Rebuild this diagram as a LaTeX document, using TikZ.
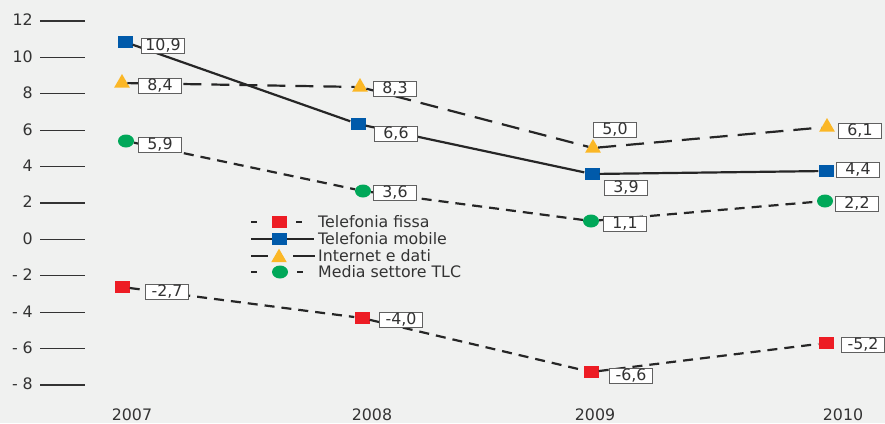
\documentclass[tikz,border=0pt]{standalone}
\usepackage{fontspec}
\setmainfont{DejaVu Sans}
\usetikzlibrary{shapes.geometric}

\definecolor{bggray}{RGB}{240,241,240}
\definecolor{txtgray}{RGB}{51,51,51}
\definecolor{fissared}{RGB}{237,28,36}
\definecolor{mobileblue}{RGB}{0,90,170}
\definecolor{netyellow}{RGB}{251,183,38}
\definecolor{mediagreen}{RGB}{0,168,89}

\tikzset{
  sq/.style={rectangle, minimum width=15pt, minimum height=12pt, inner sep=0pt},
  fissa/.style={sq, fill=fissared},
  mobile/.style={sq, fill=mobileblue},
  internet/.style={regular polygon, regular polygon sides=3, minimum size=18pt, inner sep=0pt, fill=netyellow},
  media/.style={ellipse, minimum width=16pt, minimum height=13pt, inner sep=0pt, fill=mediagreen},
  val/.style={draw=gray!75!black, fill=white, line width=0.8pt, minimum width=43pt, minimum height=15pt, inner sep=0pt},
  shortdash/.style={line width=2.2pt, black!85, dash pattern=on 10pt off 7pt},
  longdash/.style={line width=2.2pt, black!85, dash pattern=on 18pt off 10pt},
  fullline/.style={line width=2.2pt, black!85},
}

\begin{document}
\begin{tikzpicture}[x=1pt,y=-1pt,font=\fontsize{15.8}{19}\selectfont,text=txtgray]

  \fill[bggray] (0,0) rectangle (885,423);
  \useasboundingbox (0,0) rectangle (885,423);

  % y axis
  \foreach \v/\t in {12/12,10/10,8/8,6/6,4/4,2/2,0/0,-2/- 2,-4/- 4,-6/- 6,-8/- 8} {
    \draw[txtgray, line width=1.2pt] (40,{239.3-18.2*\v}) -- (85,{239.3-18.2*\v});
    \node[anchor=east, inner sep=0pt] at (33,{238.5-18.2*\v}) {\t};
  }

  % years
  \node[anchor=base, inner sep=0pt] (y07) at (132,420.5) {2007};
  \node[anchor=base, inner sep=0pt] (y08) at (372,420.5) {2008};
  \node[anchor=base, inner sep=0pt] (y09) at (595,420.5) {2009};
  \node[anchor=base, inner sep=0pt] (y10) at (843,420.5) {2010};

  % markers
  \node[mobile] (mob07) at (125,42) {};
  \node[mobile] (mob08) at (358,124) {};
  \node[mobile] (mob09) at (592,174) {};
  \node[mobile] (mob10) at (826,171) {};

  \node[internet] (net07) at (122,83) {};
  \node[internet] (net08) at (360,87) {};
  \node[internet] (net09) at (593,148) {};
  \node[internet] (net10) at (827,127) {};

  \node[media] (med07) at (126,141) {};
  \node[media] (med08) at (363,191) {};
  \node[media] (med09) at (591,221) {};
  \node[media] (med10) at (825,201) {};

  \node[fissa] (fis07) at (122,287) {};
  \node[fissa] (fis08) at (362,318) {};
  \node[fissa] (fis09) at (591,372) {};
  \node[fissa] (fis10) at (826,343) {};

  % series
  \draw[fullline] (mob07) -- (mob08) -- (mob09) -- (mob10);
  \draw[longdash] (net07) -- (net08) -- (net09) -- (net10);
  \draw[shortdash] (med07) -- (med08) -- (med09) -- (med10);
  \draw[shortdash] (fis07) -- (fis08) -- (fis09) -- (fis10);

  % values
  \node[val] (vmob07) at (163,46) {10,9};
  \node[val] (vnet07) at (160,86) {8,4};
  \node[val] (vmed07) at (160,145) {5,9};
  \node[val] (vfis07) at (167,292) {-2,7};

  \node[val] (vnet08) at (395,89) {8,3};
  \node[val] (vmob08) at (396,134) {6,6};
  \node[val] (vmed08) at (395,193) {3,6};
  \node[val] (vfis08) at (401,320) {-4,0};

  \node[val] (vnet09) at (615,130) {5,0};
  \node[val] (vmob09) at (626,188) {3,9};
  \node[val] (vmed09) at (625,224) {1,1};
  \node[val] (vfis09) at (631,376) {-6,6};

  \node[val] (vnet10) at (860,131) {6,1};
  \node[val] (vmob10) at (858,170) {4,4};
  \node[val] (vmed10) at (857,204) {2,2};
  \node[val] (vfis10) at (863,345) {-5,2};

  % legend
  \draw[line width=2pt, black!85, dash pattern=on 6pt off 39pt] (251,222) -- (303,222);
  \draw[line width=2pt, black!85] (251,239) -- (314,239);
  \draw[line width=2pt, black!85, dash pattern=on 17pt off 25pt on 22pt off 5pt] (251,256) -- (315,256);
  \draw[line width=2pt, black!85, dash pattern=on 6pt off 40pt] (251,272) -- (303,272);

  \node[fissa] (lfis) at (279,222) {};
  \node[mobile] (lmob) at (279,239) {};
  \node[internet] (lnet) at (279,257.7) {};
  \node[media] (lmed) at (280,272) {};

  \node[anchor=base west, inner sep=0pt] (tfis) at (318,227) {Telefonia fissa};
  \node[anchor=base west, inner sep=0pt] (tmob) at (318,244) {Telefonia mobile};
  \node[anchor=base west, inner sep=0pt] (tnet) at (318,261) {Internet e dati};
  \node[anchor=base west, inner sep=0pt] (tmed) at (318,277) {Media settore TLC};

\end{tikzpicture}
\end{document}
